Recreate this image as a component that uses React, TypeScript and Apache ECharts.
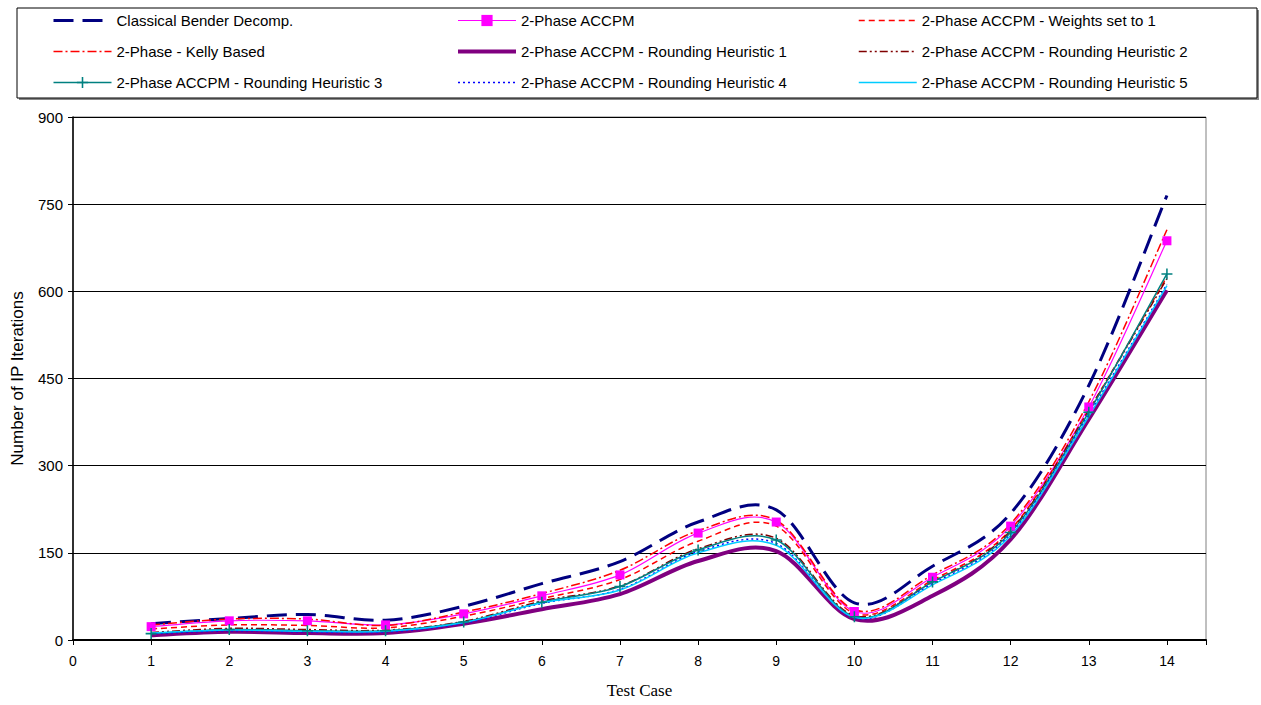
import React, { useEffect, useRef } from "react";
import * as echarts from "echarts";

const testCases = [1, 2, 3, 4, 5, 6, 7, 8, 9, 10, 11, 12, 13, 14];
const xTicks = [0, 1, 2, 3, 4, 5, 6, 7, 8, 9, 10, 11, 12, 13, 14];

const bender = [28, 37, 44, 34, 58, 97, 135, 203, 224, 64, 127, 218, 438, 765];
const accpm = [23, 33, 33, 26, 45, 76, 112, 184, 203, 49, 108, 196, 401, 687];
const weights1 = [19, 26, 25, 21, 41, 71, 104, 170, 196, 46, 103, 190, 396, 625];
const kelly = [26, 36, 36, 25, 48, 80, 120, 188, 206, 52, 112, 200, 410, 706];
const rh1 = [8, 14, 12, 12, 28, 53, 79, 136, 153, 36, 76, 173, 380, 602];
const rh2 = [13, 20, 18, 17, 32, 67, 93, 157, 175, 42, 100, 188, 395, 622];
const rh3 = [11, 18, 16, 16, 31, 65, 92, 155, 172, 40, 100, 185, 392, 630];
const rh4 = [11, 16, 14, 14, 29, 63, 87, 152, 166, 38, 97, 182, 388, 612];
const rh5 = [12, 17, 15, 15, 30, 64, 86, 150, 163, 39, 95, 180, 385, 610];

const names = [
  "Classical Bender Decomp.",
  "2-Phase ACCPM",
  "2-Phase ACCPM - Weights set to 1",
  "2-Phase - Kelly Based",
  "2-Phase ACCPM - Rounding Heuristic 1",
  "2-Phase ACCPM - Rounding Heuristic 2",
  "2-Phase ACCPM - Rounding Heuristic 3",
  "2-Phase ACCPM - Rounding Heuristic 4",
  "2-Phase ACCPM - Rounding Heuristic 5",
];

const FONT = "'Liberation Sans', Arial, sans-serif";
const CROSS = "path://M4.3,0H5.7V4.3H10V5.7H5.7V10H4.3V5.7H0V4.3H4.3Z";

type Spec = {
  name: string;
  vals: number[];
  color: string;
  width: number;
  dash: number[] | null;
  symbol: string;
  symbolSize: number;
};

const specs: Spec[] = [
  { name: names[0], vals: bender, color: "#000080", width: 3, dash: [20, 9], symbol: "none", symbolSize: 0 },
  { name: names[1], vals: accpm, color: "#FF00FF", width: 1.2, dash: null, symbol: "rect", symbolSize: 9 },
  { name: names[2], vals: weights1, color: "#FF0000", width: 1.5, dash: [6, 4], symbol: "none", symbolSize: 0 },
  { name: names[3], vals: kelly, color: "#FF0000", width: 1.5, dash: [9, 3, 2, 3], symbol: "none", symbolSize: 0 },
  { name: names[4], vals: rh1, color: "#800080", width: 4, dash: null, symbol: "none", symbolSize: 0 },
  { name: names[5], vals: rh2, color: "#800000", width: 1.5, dash: [8, 3, 2, 3, 2, 3], symbol: "none", symbolSize: 0 },
  { name: names[6], vals: rh3, color: "#008080", width: 1.5, dash: null, symbol: CROSS, symbolSize: 11 },
  { name: names[7], vals: rh4, color: "#0000FF", width: 1.5, dash: [2, 3], symbol: "none", symbolSize: 0 },
  { name: names[8], vals: rh5, color: "#00CCFF", width: 1.5, dash: null, symbol: "none", symbolSize: 0 },
];

function pairs(vals: number[]) {
  return testCases.map((x, i) => [x, vals[i]]);
}

function legendItems(idx: number[]) {
  return idx.map((k) => {
    const s = specs[k];
    const item: any = {
      name: s.name,
      lineStyle: { color: s.color, width: s.width, type: s.dash || "solid", opacity: 1 },
    };
    if (s.symbol === "none") item.itemStyle = { color: "transparent", borderWidth: 0, opacity: 0 };
    return item;
  });
}

// Excel-style smoothed curve, points placed through the chart's own scales (api.coord)
function curveSeries(s: Spec, order: number) {
  return {
    name: s.name + " (curve)",
    type: "custom",
    coordinateSystem: "cartesian2d",
    data: [[testCases[0], s.vals[0]]],
    encode: { x: 0, y: 1 },
    z: 2 + order * 0.01,
    silent: true,
    renderItem: (_params: any, api: any) => {
      const p = s.vals.map((v, i) => api.coord([testCases[i], v]));
      let d = `M${p[0][0]},${p[0][1]}`;
      for (let i = 0; i < p.length - 1; i++) {
        const p0 = p[Math.max(i - 1, 0)];
        const p1 = p[i];
        const p2 = p[i + 1];
        const p3 = p[Math.min(i + 2, p.length - 1)];
        const c1x = p1[0] + (p2[0] - p0[0]) / 6;
        const c1y = p1[1] + (p2[1] - p0[1]) / 6;
        const c2x = p2[0] - (p3[0] - p1[0]) / 6;
        const c2y = p2[1] - (p3[1] - p1[1]) / 6;
        d += ` C${c1x},${c1y} ${c2x},${c2y} ${p2[0]},${p2[1]}`;
      }
      return {
        type: "path",
        shape: { pathData: d },
        style: {
          fill: "none",
          stroke: s.color,
          lineWidth: s.width,
          lineDash: s.dash || null,
        },
      };
    },
  };
}

function markerSeries(s: Spec) {
  return {
    name: s.name,
    type: "line",
    data: pairs(s.vals),
    symbol: s.symbol,
    symbolSize: s.symbolSize,
    showSymbol: s.symbol !== "none",
    lineStyle: { color: s.color, width: s.width, type: s.dash || "solid", opacity: 0 },
    itemStyle: { color: s.color },
    emphasis: { disabled: true },
    z: 5,
    silent: true,
  };
}

export default function App() {
  const ref = useRef<HTMLDivElement>(null);
  useEffect(() => {
    if (!ref.current) return;
    const chart = echarts.init(ref.current, undefined, { renderer: "svg" });
    const series: any[] = [];
    specs.forEach((s, i) => series.push(curveSeries(s, i)));
    specs.forEach((s) => series.push(markerSeries(s)));
    const legendBase = {
      orient: "vertical",
      top: 13,
      itemWidth: 58,
      itemHeight: 14,
      itemGap: 16,
      textStyle: { fontFamily: FONT, fontSize: 15, color: "#000" },
      selectedMode: false,
      padding: 0,
    };
    chart.setOption({
      animation: false,
      backgroundColor: "#fff",
      graphic: [
        { type: "rect", shape: { x: 19, y: 10, width: 1240, height: 90 }, style: { fill: "#888", stroke: "none" }, z: -10 },
        { type: "rect", shape: { x: 17, y: 8, width: 1240, height: 90 }, style: { fill: "#fff", stroke: "#000", lineWidth: 1 }, z: -9 },
      ],
      legend: [
        { ...legendBase, left: 52, data: legendItems([0, 3, 6]) },
        { ...legendBase, left: 456, data: legendItems([1, 4, 7]) },
        { ...legendBase, left: 858, data: legendItems([2, 5, 8]) },
      ],
      grid: {
        left: 73,
        right: 55,
        top: 117,
        bottom: 65,
        show: true,
        borderColor: "#808080",
        borderWidth: 1,
        backgroundColor: "transparent",
      },
      xAxis: {
        type: "value",
        min: 0,
        max: 14.5,
        interval: 1,
        name: "Test Case",
        nameLocation: "middle",
        nameGap: 42,
        nameTextStyle: { fontFamily: "'Liberation Serif', 'Times New Roman', serif", fontSize: 17, color: "#000" },
        axisLine: { show: true, lineStyle: { color: "#000", width: 2 } },
        axisTick: { show: true, inside: false, length: 5, lineStyle: { color: "#000" } },
        axisLabel: {
          fontFamily: FONT,
          fontSize: 14,
          color: "#000",
          margin: 14,
          formatter: (v: number) => (xTicks.indexOf(v) >= 0 ? String(v) : ""),
        },
        splitLine: { show: false },
      },
      yAxis: {
        type: "value",
        min: 0,
        max: 900,
        interval: 150,
        name: "Number of IP Iterations",
        nameLocation: "middle",
        nameGap: 47,
        nameTextStyle: { fontFamily: FONT, fontSize: 17, color: "#000" },
        axisLine: { show: true, lineStyle: { color: "#000", width: 1.5 } },
        axisTick: { show: true, inside: false, length: 5, lineStyle: { color: "#000" } },
        axisLabel: { fontFamily: FONT, fontSize: 15, color: "#000", margin: 10 },
        splitLine: { show: true, lineStyle: { color: "#000", width: 1 } },
      },
      series,
    });
    return () => chart.dispose();
  }, []);
  return (
    <div
      ref={ref}
      style={{ position: "fixed", left: 0, top: 0, width: 1261, height: 705 }}
    />
  );
}
